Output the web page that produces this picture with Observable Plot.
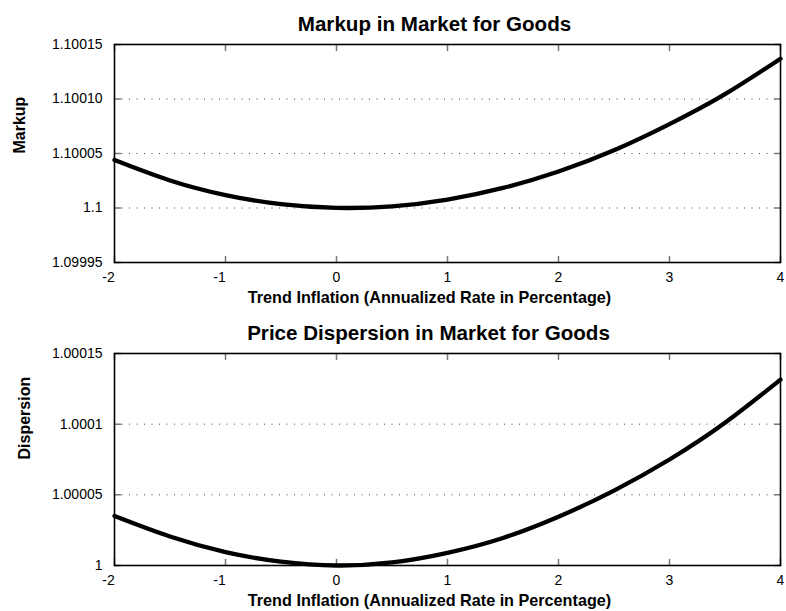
<!DOCTYPE html>
<html><head><meta charset="utf-8">
<script src="https://cdn.jsdelivr.net/npm/d3@7"></script>
<script src="https://cdn.jsdelivr.net/npm/@observablehq/plot@0.6"></script>
<style>
html,body{margin:0;padding:0;background:#fff;}
#chart svg{display:block;overflow:visible;}
</style></head><body><div id="chart"></div>
<script>
const trend = [-2, -1.5, -1, -0.5, 0, 0.5, 1, 1.5, 2, 2.5, 3, 3.5, 4];
const markup = [1.100044, 1.1000253, 1.1000119, 1.1000035, 1.1000001, 1.1000015, 1.1000077, 1.1000184, 1.1000335, 1.100053, 1.100077, 1.1001045, 1.100137];
const dispersion = [1.000035, 1.0000205, 1.0000095, 1.0000027, 1.0000000, 1.0000022, 1.000009, 1.0000195, 1.0000345, 1.000053, 1.000075, 1.000101, 1.0001315];
const xTicks = [-2, -1, 0, 1, 2, 3, 4];
const markupTicks = [1.09995, 1.1, 1.10005, 1.1001, 1.10015];
const markupTickLabels = ["1.09995", "1.1", "1.10005", "1.10010", "1.10015"];
const markupGrid = [1.1, 1.10005, 1.1001];
const dispTicks = [1, 1.00005, 1.0001, 1.00015];
const dispTickLabels = ["1", "1.00005", "1.0001", "1.00015"];
const dispGrid = [1.00005, 1.0001];
const titles = ["Markup in Market for Goods", "Price Dispersion in Market for Goods"];
const yLabels = ["Markup", "Dispersion"];
const xLabel = "Trend Inflation (Annualized Rate in Percentage)";

const FONT = "'Liberation Sans', Arial, Helvetica, sans-serif";
const tickGray = "#777";
const tickShape = {draw(context, l) { context.moveTo(0, 0); context.lineTo(0, -l); }};

function panel({values, ticks, tickLabels, grid, title, yLabel, height, marginTop, marginBottom, yLabelDx, titleDx}) {
  const data = trend.map((t, i) => ({t, v: values[i]}));
  const fmt = d => tickLabels[ticks.indexOf(d)];
  return Plot.plot({
    width: 786,
    height,
    marginLeft: 114,
    marginRight: 6,
    marginTop,
    marginBottom,
    style: {fontFamily: FONT, fontSize: "14px", color: "#000", background: "none", overflow: "visible"},
    x: {domain: [xTicks[0], xTicks[xTicks.length - 1]], axis: null},
    y: {domain: [ticks[0], ticks[ticks.length - 1]], axis: null},
    marks: [
      Plot.ruleY(grid, {stroke: "#444", strokeWidth: 1, strokeDasharray: "1,6.5"}),
      Plot.vector(xTicks, {x: d => d, frameAnchor: "top", rotate: 180, length: 6, anchor: "start", shape: tickShape, stroke: tickGray}),
      Plot.vector(xTicks, {x: d => d, frameAnchor: "bottom", rotate: 0, length: 6, anchor: "start", shape: tickShape, stroke: tickGray}),
      Plot.vector(ticks, {y: d => d, frameAnchor: "left", rotate: 90, length: 6, anchor: "start", shape: tickShape, stroke: tickGray}),
      Plot.vector(ticks, {y: d => d, frameAnchor: "right", rotate: -90, length: 6, anchor: "start", shape: tickShape, stroke: tickGray}),
      Plot.line(data, {x: "t", y: "v", stroke: "#000", strokeWidth: 4.3, curve: "natural"}),
      Plot.frame({stroke: "#000", strokeWidth: 1.6}),
      Plot.axisX(xTicks.filter(d => d < 0), {anchor: "bottom", tickSize: 0, tickPadding: 10, dx: -6, tickFormat: d => String(d), fontSize: 14, label: null}),
      Plot.axisX(xTicks.filter(d => d >= 0), {anchor: "bottom", tickSize: 0, tickPadding: 10, tickFormat: d => String(d), fontSize: 14, label: null}),
      Plot.axisY(ticks, {anchor: "left", tickSize: 0, tickPadding: 12, tickFormat: fmt, fontSize: 14, label: null}),
      Plot.text([title], {frameAnchor: "top", lineAnchor: "bottom", dy: -14, dx: titleDx, fontSize: 20.6, fontWeight: "bold"}),
      Plot.text([xLabel], {frameAnchor: "bottom", lineAnchor: "bottom", dy: 40, dx: -18, fontSize: 16.2, fontWeight: "bold"}),
      Plot.text([yLabel], {frameAnchor: "left", rotate: -90, dx: yLabelDx, fontSize: 16, fontWeight: "bold"})
    ]
  });
}

const root = document.getElementById("chart");
root.appendChild(panel({values: markup, ticks: markupTicks, tickLabels: markupTickLabels, grid: markupGrid,
  title: titles[0], yLabel: yLabels[0], height: 305, marginTop: 44, marginBottom: 43, yLabelDx: -95, titleDx: -13}));
root.appendChild(panel({values: dispersion, ticks: dispTicks, tickLabels: dispTickLabels, grid: dispGrid,
  title: titles[1], yLabel: yLabels[1], height: 306, marginTop: 48, marginBottom: 46, yLabelDx: -90, titleDx: -19}));
</script></body></html>
